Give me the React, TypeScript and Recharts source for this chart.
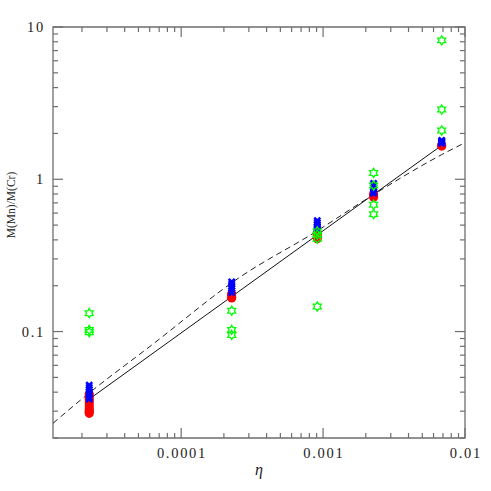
import React from "react";
import { ComposedChart, XAxis, YAxis, Scatter, Line, ReferenceArea } from "recharts";

// ---- data ----
const xDomain: [number, number] = [1.25e-5, 0.01];
const yDomain: [number, number] = [0.02, 10];

const xTicks = [
  2e-5, 3e-5, 4e-5, 5e-5, 6e-5, 7e-5, 8e-5, 9e-5, 1e-4,
  2e-4, 3e-4, 4e-4, 5e-4, 6e-4, 7e-4, 8e-4, 9e-4, 1e-3,
  2e-3, 3e-3, 4e-3, 5e-3, 6e-3, 7e-3, 8e-3, 9e-3, 1e-2,
];
const xMajorValues = [1e-4, 1e-3, 1e-2];
const xMajorLabels = ["0.0001", "0.001", "0.01"];

const yTicks = [
  0.02, 0.03, 0.04, 0.05, 0.06, 0.07, 0.08, 0.09, 0.1,
  0.2, 0.3, 0.4, 0.5, 0.6, 0.7, 0.8, 0.9, 1,
  2, 3, 4, 5, 6, 7, 8, 9, 10,
];
const yMajorValues = [0.1, 1, 10];
const yMajorLabels = ["0.1", "1", "10"];

const etaValues = [2.25e-5, 2.27e-4, 9.1e-4, 2.27e-3, 6.85e-3];

const redValues = [
  [0.039, 0.038, 0.037, 0.036, 0.035, 0.034, 0.033, 0.032, 0.031, 0.0305, 0.03, 0.0295, 0.029],
  [0.177, 0.174, 0.171, 0.168, 0.166],
  [0.446, 0.435, 0.425, 0.416, 0.407],
  [0.805, 0.79, 0.775, 0.762],
  [1.68, 1.665, 1.65],
];
const blueValues = [
  [0.0445, 0.043, 0.0415, 0.04, 0.0385, 0.037, 0.036],
  [0.212, 0.205, 0.198, 0.192, 0.186, 0.18],
  [0.535, 0.52, 0.505, 0.49, 0.478, 0.467],
  [0.94, 0.91, 0.88, 0.855, 0.83, 0.81],
  [1.8, 1.78, 1.76, 1.74, 1.72],
];
const greenValues = [
  [0.132, 0.1025, 0.099],
  [0.137, 0.1025, 0.095],
  [0.455, 0.433, 0.407, 0.146],
  [1.1, 0.91, 0.68, 0.59],
  [8.17, 2.87, 2.09],
];

const fitX = [2.25e-5, 6.85e-3];
const fitY = [0.036, 1.67];

const curveX = [1.25e-5, 2.25e-5, 6.04e-5, 2.6e-4, 9.08e-4, 1.99e-3, 6.84e-3, 0.01];
const curveY = [0.025, 0.0395, 0.08, 0.228, 0.458, 0.735, 1.45, 1.74];

// ---- build tables ----
const toPoints = (groups: number[][]) =>
  groups.flatMap((vals, i) => vals.map((v) => ({ x: etaValues[i], y: v })));
const redData = toPoints(redValues);
const blueData = toPoints(blueValues);
const greenData = toPoints(greenValues);
const fitData = fitX.map((x, i) => ({ x, y: fitY[i] }));
const curveData = curveX.map((x, i) => ({ x, y: curveY[i] }));

// ---- layout / style ----
const W = 491;
const H = 491;
const M_TOP = 27;
const M_RIGHT = 26;
const Y_AXIS_W = 53;
const X_AXIS_H = 53;
const PLOT_W = W - Y_AXIS_W - M_RIGHT;
const PLOT_H = H - M_TOP - X_AXIS_H;
const AXIS_COLOR = "#6e6e6e";
const FONT = "'Liberation Serif', 'Times New Roman', serif";

const isMajor = (v: number) => {
  const l = Math.log10(v);
  return Math.abs(l - Math.round(l)) < 1e-6;
};
const findLabel = (v: number, vals: number[], labels: string[]) => {
  const i = vals.findIndex((m) => Math.abs(m - v) / m < 1e-6);
  return i >= 0 ? labels[i] : null;
};

const XTick = (props: any) => {
  const { x, y, payload } = props;
  const v = payload.value as number;
  const len = isMajor(v) ? 10 : 5;
  const label = findLabel(v, xMajorValues, xMajorLabels);
  const top = y - PLOT_H;
  return (
    <g>
      <line x1={x} y1={y} x2={x} y2={y - len} stroke={AXIS_COLOR} strokeWidth={1.2} />
      <line x1={x} y1={top} x2={x} y2={top + len} stroke={AXIS_COLOR} strokeWidth={1.2} />
      {label && (
        <text
          x={x + 0.8}
          y={y + 20}
          textAnchor="middle"
          fontFamily={FONT}
          fontSize={14.5}
          letterSpacing={1.7}
          fill="#222"
        >
          {label}
        </text>
      )}
    </g>
  );
};

const YTick = (props: any) => {
  const { x, y, payload } = props;
  const v = payload.value as number;
  const len = isMajor(v) ? 10 : 5;
  const label = findLabel(v, yMajorValues, yMajorLabels);
  const right = x + PLOT_W;
  return (
    <g>
      <line x1={x} y1={y} x2={x + len} y2={y} stroke={AXIS_COLOR} strokeWidth={1.2} />
      <line x1={right} y1={y} x2={right - len} y2={y} stroke={AXIS_COLOR} strokeWidth={1.2} />
      {label && (
        <text
          x={x - 8}
          y={y + 5}
          textAnchor="end"
          fontFamily={FONT}
          fontSize={14.5}
          letterSpacing={1.7}
          fill="#222"
        >
          {label}
        </text>
      )}
    </g>
  );
};

const RedDot = (props: any) => {
  const { cx, cy } = props;
  if (cx == null || cy == null) return <g />;
  return <circle cx={cx} cy={cy} r={4.5} fill="#ff0000" />;
};

const BlueCross = (props: any) => {
  const { cx, cy } = props;
  if (cx == null || cy == null) return <g />;
  const s = 3;
  return (
    <g stroke="#0000ff" strokeWidth={2.6}>
      <line x1={cx - s} y1={cy - s} x2={cx + s} y2={cy + s} />
      <line x1={cx - s} y1={cy + s} x2={cx + s} y2={cy - s} />
    </g>
  );
};

const GreenStar = (props: any) => {
  const { cx, cy } = props;
  if (cx == null || cy == null) return <g />;
  const ro = 4.6;
  const ri = 2.7;
  const pts: string[] = [];
  for (let k = 0; k < 12; k++) {
    const a = (Math.PI / 6) * k - Math.PI / 2;
    const r = k % 2 === 0 ? ro : ri;
    pts.push(`${cx + r * Math.cos(a)},${cy + r * Math.sin(a)}`);
  }
  return <polygon points={pts.join(" ")} fill="none" stroke="#00ff00" strokeWidth={1.3} />;
};

export default function App() {
  return (
    <div style={{ position: "absolute", left: 0, top: 0, width: W, height: H, background: "#fff" }}>
      <ComposedChart
        width={W}
        height={H}
        margin={{ top: M_TOP, right: M_RIGHT, bottom: 0, left: 0 }}
      >
        <XAxis
          dataKey="x"
          type="number"
          scale="log"
          domain={xDomain}
          allowDataOverflow
          ticks={xTicks}
          interval={0}
          height={X_AXIS_H}
          tickSize={0}
          tickMargin={0}
          axisLine={false}
          tickLine={false}
          tick={<XTick />}
        />
        <YAxis
          dataKey="y"
          type="number"
          scale="log"
          domain={yDomain}
          allowDataOverflow
          ticks={yTicks}
          interval={0}
          width={Y_AXIS_W}
          tickSize={0}
          tickMargin={0}
          axisLine={false}
          tickLine={false}
          tick={<YTick />}
        />
        <ReferenceArea
          x1={xDomain[0]}
          x2={xDomain[1]}
          y1={yDomain[0]}
          y2={yDomain[1]}
          fill="none"
          fillOpacity={0}
          stroke={AXIS_COLOR}
          strokeWidth={1.3}
          ifOverflow="visible"
        />
        <Scatter data={redData} shape={<RedDot />} isAnimationActive={false} />
        <Scatter data={blueData} shape={<BlueCross />} isAnimationActive={false} />
        <Line
          data={curveData}
          dataKey="y"
          type="monotone"
          stroke="#222"
          strokeWidth={1}
          strokeDasharray="6 4"
          dot={false}
          activeDot={false}
          isAnimationActive={false}
        />
        <Line
          data={fitData}
          dataKey="y"
          type="linear"
          stroke="#111"
          strokeWidth={1}
          dot={false}
          activeDot={false}
          isAnimationActive={false}
        />
        <Scatter data={greenData} shape={<GreenStar />} isAnimationActive={false} />
      </ComposedChart>
      <svg
        width={W}
        height={H}
        style={{ position: "absolute", left: 0, top: 0, pointerEvents: "none" }}
      >
        <text
          x={0}
          y={0}
          transform="translate(15, 205) rotate(-90)"
          textAnchor="middle"
          fontFamily={FONT}
          fontSize={11.5}
          fill="#222"
        >
          M(Mn)/M(Cr)
        </text>
        <text
          x={259}
          y={475}
          textAnchor="middle"
          fontFamily={FONT}
          fontStyle="italic"
          fontSize={16}
          fill="#222"
        >
          η
        </text>
      </svg>
    </div>
  );
}
